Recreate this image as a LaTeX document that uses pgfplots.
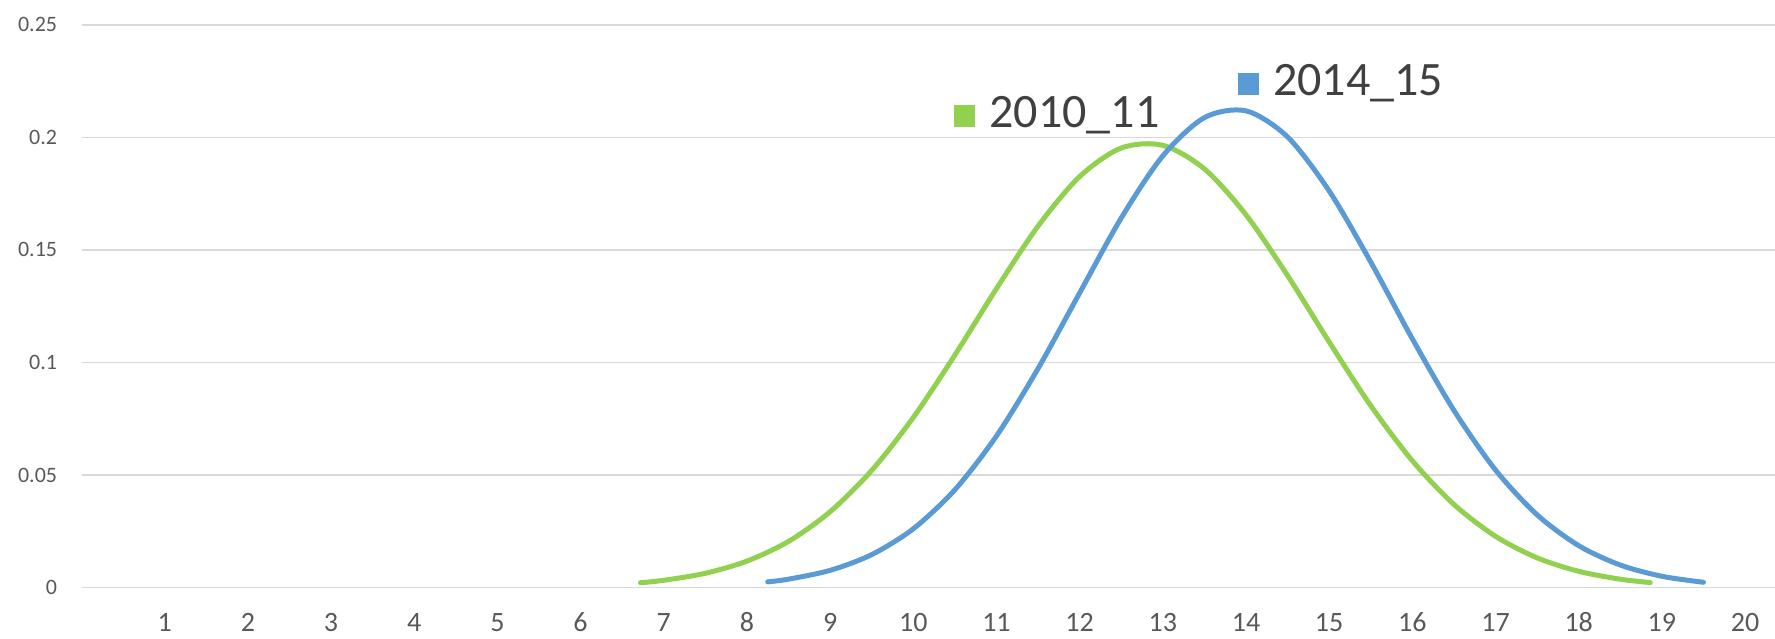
\documentclass[border=0pt]{standalone}
\usepackage{pgfplots}
\pgfplotsset{compat=1.18}
\usepackage{fontspec}
\setmainfont{Carlito}
\definecolor{cgreen}{HTML}{92D050}
\definecolor{cblue}{HTML}{5B9BD5}
\definecolor{cgrid}{HTML}{D9D9D9}
\definecolor{ctick}{HTML}{595959}
\definecolor{clab}{HTML}{404040}
\begin{document}
\begin{tikzpicture}
\path[use as bounding box] (-40.75pt,-25.25pt) rectangle (846.75pt,293.75pt);
\begin{axis}[
  at={(0,0)}, anchor=south west,
  scale only axis, width=846.75pt, height=281.3pt,
  xmin=0, xmax=20.36, ymin=0, ymax=0.25,
  axis line style={draw=none},
  major tick length=0pt,
  ymajorgrids, major grid style={cgrid, line width=0.9pt},
  ytick={0,0.05,0.1,0.15,0.2,0.25},
  yticklabels={0,0.05,0.1,0.15,0.2,0.25},
  xtick={1,2,3,4,5,6,7,8,9,10,11,12,13,14,15,16,17,18,19,20},
  xticklabels={1,2,3,4,5,6,7,8,9,10,11,12,13,14,15,16,17,18,19,20},
  yticklabel style={font=\fontsize{11}{13}\selectfont, text=ctick, anchor=east, inner sep=0pt, xshift=-12pt},
  xticklabel style={font=\fontsize{14}{16}\selectfont, text=ctick, anchor=center, inner sep=0pt, yshift=-17.5pt},
  clip=false,
]
\addplot[cgreen, line width=2.5pt, line cap=round, smooth] coordinates {
(6.72,0.00213) (7,0.00320) (7.5,0.00632) (8,0.01173) (8.5,0.02048) (9,0.03367)
(9.5,0.05202) (10,0.07556) (10.5,0.1033) (11,0.1328) (11.5,0.1606) (12,0.1826)
(12.5,0.1953) (13,0.1965) (13.5,0.1860) (14,0.1656) (14.5,0.1386)
(15,0.1091) (15.5,0.0808) (16,0.0563) (16.5,0.0369) (17,0.02275) (17.5,0.01318)
(18,0.00719) (18.5,0.00369) (18.86,0.00219)
};
\addplot[cblue, line width=2.5pt, line cap=round, smooth] coordinates {
(8.25,0.00252) (8.5,0.00371) (9,0.00762) (9.5,0.01461) (10,0.02610) (10.5,0.04344)
(11,0.06734) (11.5,0.09730) (12,0.1309) (12.5,0.1642) (13,0.1918) (13.5,0.2088)
(14,0.2118) (14.5,0.2002) (15,0.1762) (15.5,0.1446) (16,0.1105)
(16.5,0.0787) (17,0.0522) (17.5,0.0323) (18,0.01859) (18.5,0.00998) (19,0.00499)
(19.5,0.00232)
};
\node[anchor=west, inner sep=0pt, text=clab, font=\fontsize{24}{26}\selectfont] at (axis cs:10.49,0.21)
  {\textcolor{cgreen}{\rule{10.5pt}{11pt}}\hspace{7pt}2010\_11};
\node[anchor=west, inner sep=0pt, text=clab, font=\fontsize{24}{26}\selectfont] at (axis cs:13.9,0.2242)
  {\textcolor{cblue}{\rule{10.5pt}{11pt}}\hspace{7pt}2014\_15};
\end{axis}
\end{tikzpicture}
\end{document}
